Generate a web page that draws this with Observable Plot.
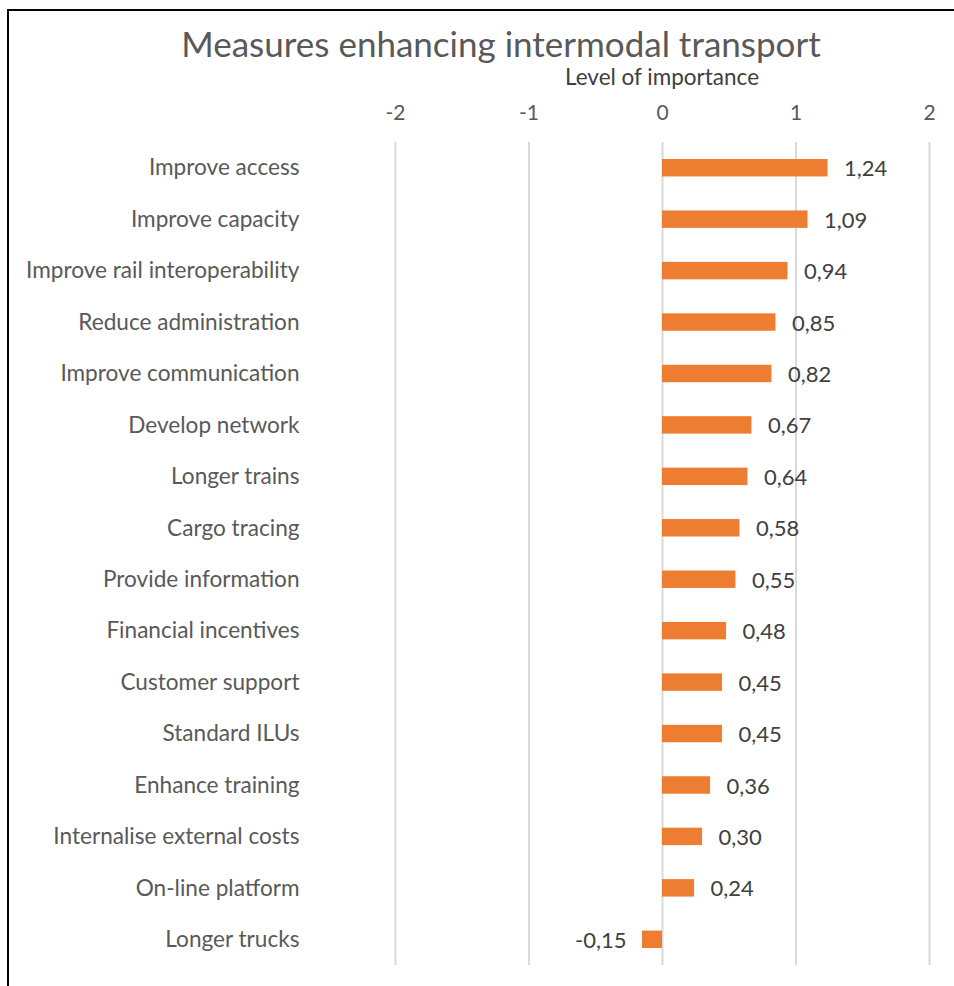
<!DOCTYPE html>
<html>
<head>
<meta charset="utf-8">
<script src="https://cdn.jsdelivr.net/npm/d3@7"></script>
<script src="https://cdn.jsdelivr.net/npm/@observablehq/plot@0.6"></script>
<style>
  html, body { margin: 0; padding: 0; background: #fff; }
  #wrap { position: relative; width: 954px; height: 986px; overflow: hidden; font-family: Lato, "Open Sans", sans-serif; }
  #frame { position: absolute; left: 7px; top: 9px; width: 1000px; height: 1000px; border-top: 2px solid #000; border-left: 2px solid #000; }
  #head { position: relative; height: 90px; }
  #title { position: absolute; left: 0; width: 1002px; top: 28px; text-align: center; font-size: 35px; color: #595959; line-height: 0.9; }
  #subtitle { position: absolute; left: 512px; width: 300px; top: 67px; text-align: center; font-size: 22.5px; color: #404040; line-height: 0.9; }
  #chart svg { display: block; }
</style>
</head>
<body>
<div id="wrap">
  <div id="frame"></div>
  <div id="head">
    <div id="title">Measures enhancing intermodal transport</div>
    <div id="subtitle">Level of importance</div>
  </div>
  <div id="chart"></div>
</div>
<script>
const categories = [
  "Improve access",
  "Improve capacity",
  "Improve rail interoperability",
  "Reduce administration",
  "Improve communication",
  "Develop network",
  "Longer trains",
  "Cargo tracing",
  "Provide information",
  "Financial incentives",
  "Customer support",
  "Standard ILUs",
  "Enhance training",
  "Internalise external costs",
  "On-line platform",
  "Longer trucks"
];
const values = [1.24, 1.09, 0.94, 0.85, 0.82, 0.67, 0.64, 0.58, 0.55, 0.48, 0.45, 0.45, 0.36, 0.30, 0.24, -0.15];
const xTicks = [-2, -1, 0, 1, 2];

const data = categories.map((c, i) => ({category: c, value: values[i]}));
const fmt = v => v.toFixed(2).replace(".", ",");

const chart = Plot.plot({
  width: 954,
  height: 896,
  marginTop: 52,
  marginBottom: 21,
  marginLeft: 395,
  marginRight: 25,
  style: {fontFamily: "Lato, 'Open Sans', sans-serif", background: "#fff", overflow: "visible"},
  x: {domain: [-2, 2], ticks: xTicks},
  y: {domain: categories, padding: 0, round: false},
  marks: [
    Plot.gridX(xTicks, {stroke: "#d9d9d9", strokeWidth: 2, strokeOpacity: 1}),
    Plot.axisX({anchor: "top", ticks: xTicks, tickSize: 0, tickPadding: 23, label: null, fontSize: 21, color: "#595959", tickFormat: d => String(d).replace("−", "-")}),
    Plot.axisY({anchor: "left", tickSize: 0, tickPadding: 96, label: null, fontSize: 22.6, color: "#595959"}),
    Plot.barX(data, {x: "value", y: "category", fill: "#ED7D31", insetTop: 17, insetBottom: 17}),
    Plot.text(data.filter(d => d.value >= 0), {x: "value", y: "category", text: d => fmt(d.value), textAnchor: "start", dx: 16, dy: 1, fontSize: 22, fill: "#404040"}),
    Plot.text(data.filter(d => d.value < 0), {x: "value", y: "category", text: d => fmt(d.value), textAnchor: "end", dx: -16, dy: 1, fontSize: 22, fill: "#404040"})
  ]
});
document.getElementById("chart").appendChild(chart);
</script>
</body>
</html>
